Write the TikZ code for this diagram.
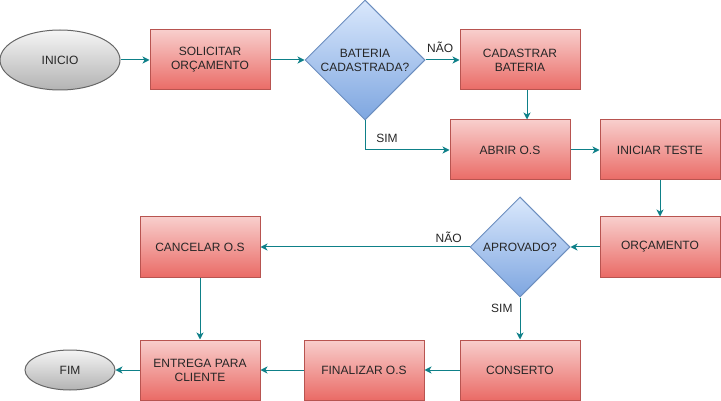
\documentclass[tikz,border=0pt]{standalone}
\usepackage{fontspec}
\setmainfont{Liberation Sans}
\usetikzlibrary{shapes.geometric,arrows.meta}
\definecolor{redtop}{HTML}{F8CECC}
\definecolor{redbot}{HTML}{EA6B66}
\definecolor{redline}{HTML}{B85450}
\definecolor{bluetop}{HTML}{DAE8FC}
\definecolor{bluebot}{HTML}{7EA6E0}
\definecolor{blueline}{HTML}{6C8EBF}
\definecolor{graytop}{HTML}{F5F5F5}
\definecolor{graybot}{HTML}{B3B3B3}
\definecolor{grayline}{HTML}{666666}
\definecolor{flowteal}{HTML}{0E8088}
\tikzset{
    txt/.style={font=\fontsize{12}{14}\selectfont, text=black!85},
    procbox/.style={txt, draw=redline, top color=redtop, bottom color=redbot, line width=1pt,
        minimum width=120pt, minimum height=60pt, align=center, inner sep=0pt},
    decision/.style={txt, diamond, aspect=1, draw=blueline, top color=bluetop, bottom color=bluebot,
        line width=1pt, align=center, inner sep=0pt},
    terminal/.style={txt, ellipse, draw=grayline, top color=graytop, bottom color=graybot,
        line width=1pt, inner sep=0pt},
    flow/.style={draw=flowteal, line width=1pt, -{Stealth[length=7pt,width=7pt,inset=2pt]}},
    flowlabel/.style={txt, inner sep=2pt}
}
\begin{document}
\begin{tikzpicture}[x=1pt,y=-1pt]
    \useasboundingbox (0,0) rectangle (721,401);
    % linha de cima
    \node[terminal, minimum width=120pt, minimum height=60pt] (inicio) at (60,60) {INICIO};
    \node[procbox] (solicitar) at (210,60) {SOLICITAR\\OR\c{C}AMENTO};
    \node[decision, minimum width=120pt, minimum height=120pt] (bateria) at (365,60) {BATERIA\\CADASTRADA?};
    \node[procbox] (cadastrar) at (520,60) {CADASTRAR\\BATERIA};
    \node[procbox] (abrir) at (510,150) {ABRIR O.S};
    \node[procbox] (iniciar) at (660,150) {INICIAR TESTE};
    % meio
    \node[procbox] (orcamento) at (660,247) {OR\c{C}AMENTO};
    \node[decision, minimum width=100pt, minimum height=100pt] (aprovado) at (520,247) {APROVADO?};
    \node[procbox] (cancelar) at (200,247) {CANCELAR O.S};
    % linha de baixo
    \node[procbox] (conserto) at (520,370) {CONSERTO};
    \node[procbox] (finalizar) at (364,370) {FINALIZAR O.S};
    \node[procbox] (entrega) at (200,370) {ENTREGA PARA\\CLIENTE};
    \node[terminal, minimum width=90pt, minimum height=40pt] (fim) at (70,370) {FIM};

    \draw[flow] (inicio) -- (solicitar);
    \draw[flow] (solicitar) -- (bateria);
    \draw[flow] (bateria.east) -- node[flowlabel, above=5pt, pos=0.43] {NÃO} (cadastrar.west);
    \draw[flow] ([xshift=7]cadastrar.south) -- ([xshift=17]abrir.north);
    \draw[flow] (bateria.south) |- node[flowlabel, above=5pt, pos=0.63] {SIM} (abrir.west);
    \draw[flow] (abrir) -- (iniciar);
    \draw[flow] (iniciar) -- (orcamento);
    \draw[flow] (orcamento) -- (aprovado);
    \draw[flow] (aprovado.west) -- node[flowlabel, above=2pt, pos=0.1] {NÃO} (cancelar.east);
    \draw[flow] (aprovado.south) -- node[flowlabel, left=5pt, pos=0.25] {SIM} (conserto.north);
    \draw[flow] (cancelar) -- (entrega);
    \draw[flow] (conserto) -- (finalizar);
    \draw[flow] (finalizar) -- (entrega);
    \draw[flow] (entrega) -- (fim);
\end{tikzpicture}
\end{document}
